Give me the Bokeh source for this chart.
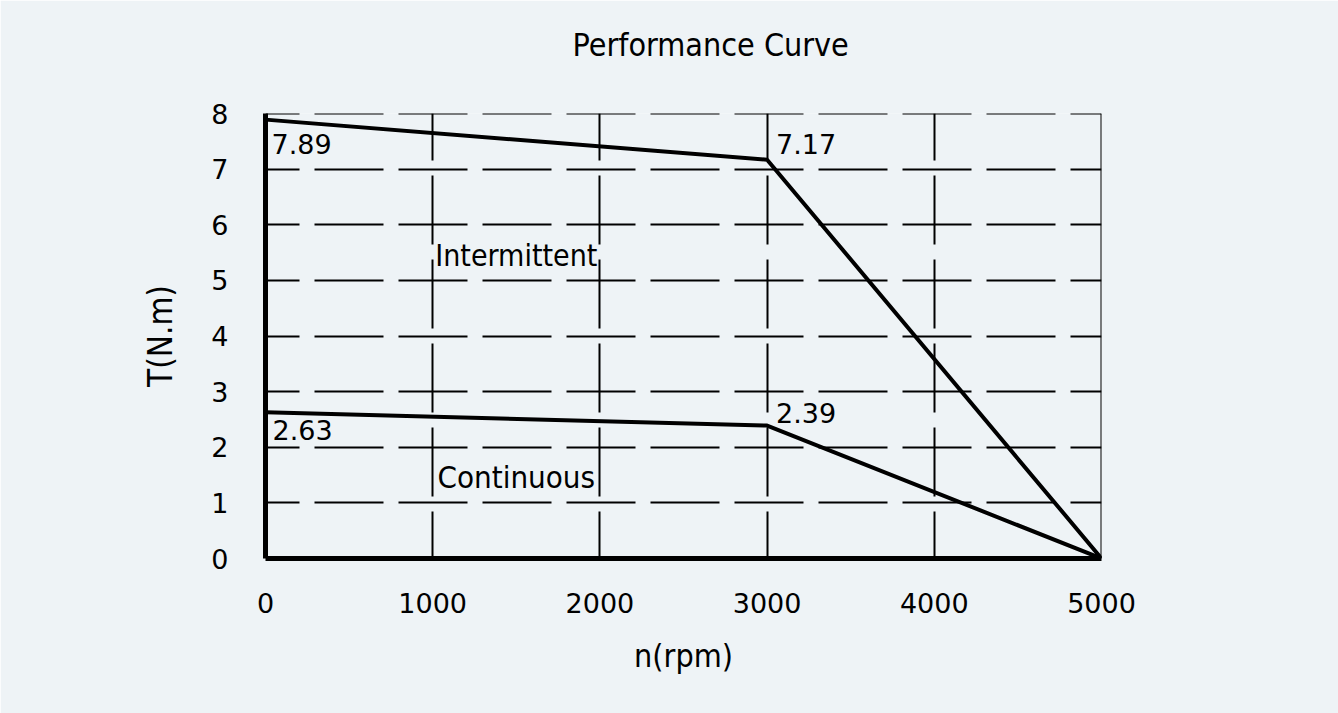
from bokeh.plotting import figure
from bokeh.models import Range1d, FixedTicker, Span, Title, ColumnDataSource
from bokeh.core.properties import value
from bokeh.embed import file_html
from bokeh.resources import INLINE

# ---- data ----
speed_rpm = [0, 3000, 5000]
torque_intermittent = [7.89, 7.17, 0.0]
torque_continuous = [2.63, 2.39, 0.0]
x_ticks = [0, 1000, 2000, 3000, 4000, 5000]
y_ticks = [0, 1, 2, 3, 4, 5, 6, 7, 8]
zone_names = ["Intermittent", "Continuous"]
zone_x = [1500, 1500]
zone_y = [5.45, 1.46]
zone_size = ["30px", "31px"]
title_text = "Performance Curve"

BG = "#eef3f6"
NARROW = "DejaVu Sans Condensed"
NUM = "DejaVu Sans"

p = figure(width=1338, height=713, output_backend="svg", toolbar_location=None,
           x_range=Range1d(0, 5000), y_range=Range1d(0, 8),
           min_border_left=265, min_border_right=237, min_border_top=113,
           min_border_bottom=155)
p.background_fill_color = BG
p.border_fill_color = BG
p.outline_line_color = None
p.title = None

# spacer panel next to the frame, then the real title above it
p.add_layout(Title(text=" ", text_font_size="10px", standoff=13), "above")
p.add_layout(Title(text=title_text, align="left", offset=307, standoff=44,
                   vertical_align="top", text_font=NARROW, text_font_size="32px",
                   text_font_style="normal", text_color="black"), "above")

# axes
for ax in (p.xaxis[0], p.yaxis[0]):
    ax.axis_line_width = 5
    ax.axis_line_color = "black"
    ax.major_tick_out = 0
    ax.major_tick_in = 0
    ax.minor_tick_out = 0
    ax.minor_tick_in = 0
    ax.major_label_text_font = NUM
    ax.major_label_text_font_size = "27px"
    ax.major_label_text_color = "black"
    ax.axis_label_text_font = NARROW
    ax.axis_label_text_font_style = "normal"
    ax.axis_label_text_color = "black"

p.xaxis.axis_label_text_font_size = "32px"
p.yaxis.axis_label_text_font_size = "33px"
p.xaxis.ticker = FixedTicker(ticks=x_ticks)
p.yaxis.ticker = FixedTicker(ticks=y_ticks)
p.xaxis.axis_label = "n(rpm)"
p.yaxis.axis_label = "T(N.m)"
p.xaxis.major_label_standoff = 34
p.yaxis.major_label_standoff = 37
p.xaxis.axis_label_standoff = 21
p.yaxis.axis_label_standoff = 28

# grid
p.xgrid.ticker = FixedTicker(ticks=x_ticks)
p.ygrid.ticker = FixedTicker(ticks=y_ticks)
p.xgrid.grid_line_color = "black"
p.xgrid.grid_line_width = 2
p.xgrid.grid_line_dash = "69 15"
p.xgrid.grid_line_dash_offset = 22
p.ygrid.grid_line_color = "black"
p.ygrid.grid_line_width = 2
p.ygrid.grid_line_dash = "69 15"
p.ygrid.grid_line_dash_offset = 35

# edge lines at the range ends (grid skips them)
p.add_layout(Span(location=x_ticks[-1], dimension="height", line_color="black",
                  line_width=2))
p.add_layout(Span(location=y_ticks[-1], dimension="width", line_color="black",
                  line_width=2, line_dash="69 15", line_dash_offset=35))

# curves
p.line(speed_rpm, torque_intermittent, line_color="black", line_width=4)
p.line(speed_rpm, torque_continuous, line_color="black", line_width=4)

# point value labels
def fmt(v):
    return f"{v:.2f}"

lab_x = [speed_rpm[0], speed_rpm[1], speed_rpm[0], speed_rpm[1]]
lab_y = [torque_intermittent[0], torque_intermittent[1], torque_continuous[0], torque_continuous[1]]
lab_t = [fmt(torque_intermittent[0]), fmt(torque_intermittent[1]),
         fmt(torque_continuous[0]), fmt(torque_continuous[1])]
xo = [6, 9, 7, 9]
yo = [24, -16, 18, -13]
src = ColumnDataSource(dict(x=lab_x, y=lab_y, t=lab_t, xo=xo, yo=yo))
p.text(x="x", y="y", text="t", x_offset="xo", y_offset="yo", source=src,
       text_font=value(NUM), text_font_size="27px", text_color="black",
       text_baseline="middle", text_align="left")

# zone labels
zsrc = ColumnDataSource(dict(x=zone_x, y=zone_y, t=zone_names, s=zone_size))
p.text(x="x", y="y", text="t", text_font_size="s", source=zsrc,
       text_font=value(NARROW), text_color="black", text_baseline="middle",
       text_align="center")

open("out.html", "w").write(file_html(p, INLINE))
